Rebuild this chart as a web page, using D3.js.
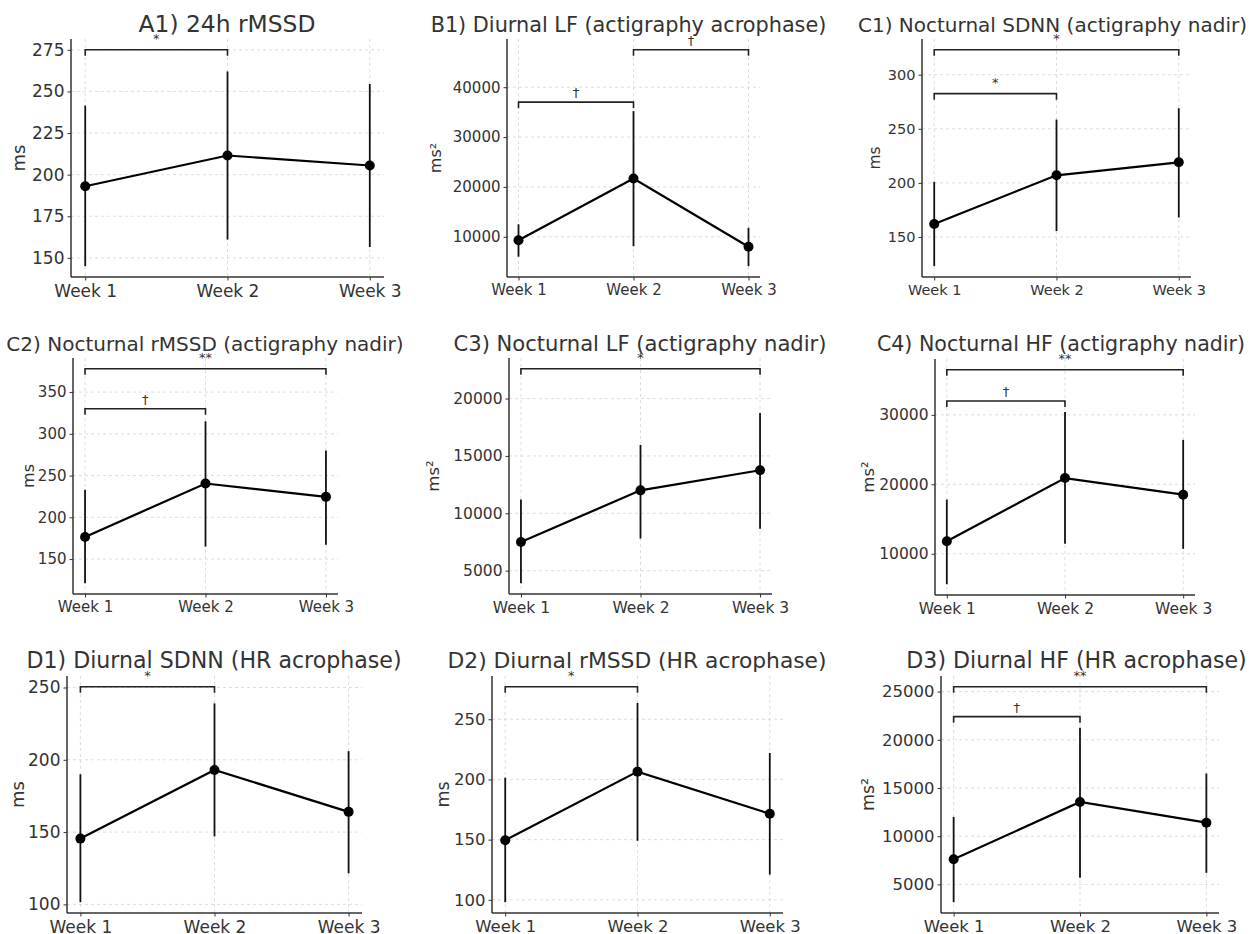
<!DOCTYPE html>
<html>
<head>
<meta charset="utf-8">
<script src="https://cdn.jsdelivr.net/npm/d3@7"></script>
<style>
  html, body { margin: 0; padding: 0; background: #fff; }
  svg { display: block; font-family: "DejaVu Sans", sans-serif; }
</style>
</head>
<body>
<svg id="chart" width="1255" height="934"></svg>
<script>
// ---------------- DATA ----------------
const weeks = ["Week 1", "Week 2", "Week 3"];

const titles = [
  "A1) 24h rMSSD",
  "B1) Diurnal LF (actigraphy acrophase)",
  "C1) Nocturnal SDNN (actigraphy nadir)",
  "C2) Nocturnal rMSSD (actigraphy nadir)",
  "C3) Nocturnal LF (actigraphy nadir)",
  "C4) Nocturnal HF (actigraphy nadir)",
  "D1) Diurnal SDNN (HR acrophase)",
  "D2) Diurnal rMSSD (HR acrophase)",
  "D3) Diurnal HF (HR acrophase)"
];

const units = ["ms", "ms²", "ms", "ms", "ms²", "ms²", "ms", "ms", "ms²"];

const means = [
  [193, 211.5, 205.5],
  [9300, 21700, 8000],
  [162, 207, 219],
  [176.5, 240.5, 224.5],
  [7500, 12000, 13750],
  [11800, 20900, 18500],
  [145.5, 193, 164],
  [149.5, 206.5, 171.5],
  [7600, 13550, 11400]
];

const lower = [
  [145, 161, 156.5],
  [6000, 8100, 4100],
  [123, 155.5, 168],
  [121, 165, 167],
  [3900, 7800, 8650],
  [5600, 11450, 10700],
  [101.5, 147, 121.5],
  [98, 149, 121],
  [3150, 5700, 6200]
];

const upper = [
  [241.5, 262, 254.5],
  [12500, 35200, 11800],
  [201, 258.5, 269],
  [233, 315, 280],
  [11200, 15950, 18750],
  [17800, 30400, 26400],
  [190, 239, 206],
  [201.5, 263.5, 222],
  [12000, 21250, 16500]
];

// significance brackets: [from week index, to week index, height, label]
const brackets = [
  [[0, 1, 275, "*"]],
  [[0, 1, 37000, "†"], [1, 2, 47500, "†"]],
  [[0, 2, 323, "*"], [0, 1, 282.5, "*"]],
  [[0, 2, 378, "**"], [0, 1, 330, "†"]],
  [[0, 2, 22600, "*"]],
  [[0, 2, 36500, "**"], [0, 1, 32000, "†"]],
  [[0, 1, 250.5, "*"]],
  [[0, 1, 277, "*"]],
  [[0, 2, 25500, "**"], [0, 1, 22400, "†"]]
];

const yTicks = [
  [150, 175, 200, 225, 250, 275],
  [10000, 20000, 30000, 40000],
  [150, 200, 250, 300],
  [150, 200, 250, 300, 350],
  [5000, 10000, 15000, 20000],
  [10000, 20000, 30000],
  [100, 150, 200, 250],
  [100, 150, 200, 250],
  [5000, 10000, 15000, 20000, 25000]
];

// ---------------- LAYOUT ----------------
const frames = [
  [71, 39, 384, 277], [507, 39, 760, 277], [922, 39, 1191, 277],
  [73, 358, 338, 594], [509, 358, 772, 594], [935, 359, 1195, 595],
  [67, 676, 362, 913], [492, 676, 783, 913], [941, 676, 1219, 913]
];
const titleX = [227, 628.5, 1052.5, 205, 640, 1061, 214, 637, 1076.5];
const titleY = [32, 32, 32, 351, 351, 351, 668, 668, 668];
const titleSize = [23.4, 20.8, 20, 20, 21.1, 20.6, 22.1, 21.8, 22.1];
const tickSize = [17, 15, 14.5, 15, 15.5, 15.5, 17, 16.5, 16.5];
const ylabelX = [18, 435, 875, 28, 433, 868, 17, 443, 868];

const textColor = "#333";
const svg = d3.select("#chart");

titles.forEach((title, i) => {
  const [L, T, R, B] = frames[i];
  const g = svg.append("g");

  const allVals = lower[i].concat(upper[i], brackets[i].map(b => b[2]));
  const lo = d3.min(allVals), hi = d3.max(allVals);
  const pad = (hi - lo) * 0.05;

  const x = d3.scaleLinear().domain([-0.1, 2.1]).range([L, R]);
  const y = d3.scaleLinear().domain([lo - pad, hi + pad]).range([B, T]);

  // grid
  g.selectAll(".hg").data(yTicks[i]).join("line")
    .attr("x1", L).attr("x2", R)
    .attr("y1", d => y(d)).attr("y2", d => y(d))
    .attr("stroke", "#d4d4d4").attr("stroke-width", 0.8)
    .attr("stroke-dasharray", "3,3");
  g.selectAll(".vg").data(weeks).join("line")
    .attr("x1", (d, j) => x(j)).attr("x2", (d, j) => x(j))
    .attr("y1", T).attr("y2", B)
    .attr("stroke", "#d4d4d4").attr("stroke-width", 0.8)
    .attr("stroke-dasharray", "3,3");

  // axes
  const yAxis = d3.axisLeft(y).tickValues(yTicks[i]).tickFormat(d3.format("d"))
    .tickSize(3.5).tickPadding(3);
  const xAxis = d3.axisBottom(x).tickValues([0, 1, 2]).tickFormat(j => weeks[j])
    .tickSize(3.5).tickPadding(4);

  const ya = g.append("g").attr("transform", `translate(${L},0)`).call(yAxis);
  const xa = g.append("g").attr("transform", `translate(0,${B})`).call(xAxis);
  [ya, xa].forEach(a => {
    a.select(".domain").remove();
    a.selectAll(".tick line").attr("stroke", textColor).attr("stroke-width", 1);
    a.selectAll(".tick text").attr("fill", textColor)
      .style("font-size", tickSize[i] + "px")
      .style("font-family", "'DejaVu Sans', sans-serif");
  });
  // spines
  g.append("line").attr("x1", L).attr("x2", L).attr("y1", T).attr("y2", B)
    .attr("stroke", textColor).attr("stroke-width", 1.5);
  g.append("line").attr("x1", L).attr("x2", R).attr("y1", B).attr("y2", B)
    .attr("stroke", textColor).attr("stroke-width", 1.5);

  // y label
  g.append("text")
    .attr("transform", `translate(${ylabelX[i]},${(T + B) / 2}) rotate(-90)`)
    .attr("text-anchor", "middle")
    .attr("dominant-baseline", "central")
    .attr("fill", textColor)
    .style("font-size", (tickSize[i] + 1) + "px")
    .text(units[i]);

  // error bars
  g.selectAll(".err").data(means[i]).join("line")
    .attr("x1", (d, j) => x(j)).attr("x2", (d, j) => x(j))
    .attr("y1", (d, j) => y(lower[i][j])).attr("y2", (d, j) => y(upper[i][j]))
    .attr("stroke", "#111").attr("stroke-width", 1.8);

  // line
  const line = d3.line().x((d, j) => x(j)).y(d => y(d));
  g.append("path").datum(means[i]).attr("d", line)
    .attr("fill", "none").attr("stroke", "#000").attr("stroke-width", 2.2);

  // markers
  g.selectAll(".pt").data(means[i]).join("circle")
    .attr("cx", (d, j) => x(j)).attr("cy", d => y(d)).attr("r", 5)
    .attr("fill", "#000");

  // brackets
  brackets[i].forEach(([a, b, h, lab]) => {
    const yy = y(h);
    g.append("path")
      .attr("d", d3.line()([[x(a), yy + 6], [x(a), yy], [x(b), yy], [x(b), yy + 6]]))
      .attr("fill", "none").attr("stroke", "#222").attr("stroke-width", 1.6);
    g.append("text")
      .attr("x", (x(a) + x(b)) / 2)
      .attr("y", yy - (lab === "†" ? 5 : 7))
      .attr("text-anchor", "middle")
      .attr("fill", textColor)
      .style("font-size", "13px")
      .text(lab);
  });

  // title
  g.append("text")
    .attr("x", titleX[i]).attr("y", titleY[i])
    .attr("text-anchor", "middle")
    .attr("fill", textColor)
    .style("font-size", titleSize[i] + "px")
    .text(title);
});
</script>
</body>
</html>
